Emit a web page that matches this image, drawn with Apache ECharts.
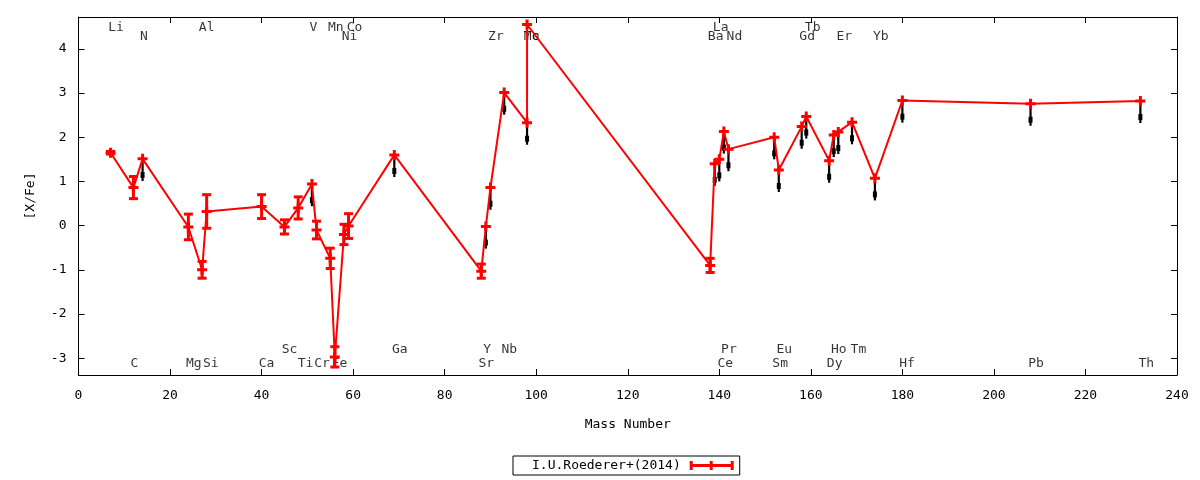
<!DOCTYPE html>
<html>
<head>
<meta charset="utf-8">
<script src="https://cdn.jsdelivr.net/npm/echarts@6/dist/echarts.min.js"></script>
<style>html,body{margin:0;padding:0;background:#fff}#c{width:1200px;height:480px}</style>
</head>
<body>
<div id="c"></div>
<script>
// ---- data ----
const elements    = ['Li','C','N','Mg','Al','Si','Ca','Sc','Ti','V','Cr','Mn','Fe','Ni','Co','Ga','Sr','Y','Zr','Nb','Mo','Tc','Ba','La','Ce','Pr','Nd','Sm','Eu','Gd','Tb','Dy','Ho','Er','Tm','Yb','Hf','Pb','Th'];
const massNumbers = [7,12,14,24,27,28,40,45,48,51,52,55,56,58,59,69,88,89,90,93,98,98,138,139,140,141,142,152,153,158,159,164,165,166,169,174,180,208,232];
const xfe         = [1.65,0.86,1.51,-0.03,-1.00,0.32,0.43,-0.03,0.40,0.94,-0.10,-0.74,-2.97,-0.20,-0.01,1.60,-1.03,-0.02,0.86,3.01,2.33,4.55,-0.90,1.40,1.50,2.13,1.73,2.00,1.26,2.24,2.47,1.47,2.05,2.12,2.34,1.07,2.83,2.76,2.82];
const xfeErr      = [0.03,0.25,0,0.29,0.19,0.38,0.27,0.16,0.25,0,0.20,0.23,0.23,0.23,0.28,0,0.16,0,0,0,0,0,0.16,0,0,0,0,0,0,0,0,0,0,0,0,0,0,0,0];
const arrowElements = ['N','V','Ga','Y','Zr','Nb','Mo','La','Ce','Pr','Nd','Sm','Eu','Gd','Tb','Dy','Ho','Er','Tm','Yb','Hf','Pb','Th'];
const arrowLength = 0.5;

const labelNames = ['Li','Al','V','Mn','Co','La','Tb',
                    'N','Ni','Zr','Mo','Tc','Ba','Nd','Gd','Er','Yb',
                    'Sc','Ga','Y','Nb','Pr','Eu','Ho','Tm',
                    'C','Mg','Si','Ca','Ti','Cr','Fe','Sr','Ce','Sm','Dy','Hf','Pb','Th'];
const labelX = [8.2,28.0,51.3,56.2,60.3,140.3,160.4,
                14.3,59.2,91.2,99.0,99.0,139.2,143.3,159.2,167.3,175.3,
                46.1,70.2,89.3,94.1,142.1,154.2,166.1,170.4,
                12.2,25.2,28.9,41.1,49.6,53.2,57.0,89.1,141.3,153.3,165.2,181.0,209.2,233.3];
const labelY = [4.49,4.49,4.49,4.49,4.49,4.49,4.49,
                4.27,4.27,4.27,4.27,4.27,4.27,4.27,4.27,4.27,4.27,
                -2.80,-2.80,-2.80,-2.80,-2.80,-2.80,-2.80,-2.80,
                -3.12,-3.12,-3.12,-3.12,-3.12,-3.12,-3.12,-3.12,-3.12,-3.12,-3.12,-3.12,-3.12,-3.12];

const xTicks = [0,20,40,60,80,100,120,140,160,180,200,220,240];
const yTicks = [-3,-2,-1,0,1,2,3,4];
const seriesName = 'I.U.Roederer+(2014)';

// ---- build ----
const FONT = 'DejaVu Sans Mono';
const lineData = massNumbers.map((m, i) => [m, xfe[i]]);
const errData = massNumbers.map((m, i) => [m, xfe[i], xfeErr[i]]).filter(d => d[2] > 0);
const arrowData = arrowElements.map(e => {
  const i = elements.indexOf(e);
  return [massNumbers[i], xfe[i], xfe[i] - arrowLength];
});
const labelData = labelNames.map((n, i) => ({ value: [labelX[i], labelY[i]], name: n }));

const plus = 'path://M3.5,0h3v10h-3z M0,3.5h10v3h-10z';

const axisCommon = {
  axisLine: { show: true, onZero: false, lineStyle: { color: '#000', width: 1 } },
  axisTick: { show: true, inside: true, length: 6, lineStyle: { color: '#000', width: 1 } },
  splitLine: { show: false }
};

const chart = echarts.init(document.getElementById('c'), null, { renderer: 'canvas' });
chart.setOption({
  animation: false,
  backgroundColor: '#fff',
  grid: { left: 78.5, right: 23, top: 17, bottom: 105, containLabel: false },
  legend: {
    data: [seriesName],
    left: 513, top: 456,
    align: 'right',
    icon: 'path://M0,0h3v9h-3z M20,0h3v9h-3z M41,0h3v9h-3z M0,3h44v3h-44z',
    itemWidth: 44, itemHeight: 9,
    itemStyle: { color: '#ff0000' },
    borderColor: '#000', borderWidth: 1, borderRadius: 0,
    padding: [3, 6, 3, 19],
    textStyle: { fontFamily: FONT, fontSize: 13, color: '#000', padding: [0, 4, 0, 0] }
  },
  xAxis: [
    Object.assign({}, axisCommon, {
      type: 'value', min: 0, max: 240, interval: 20, position: 'bottom',
      name: 'Mass Number', nameLocation: 'middle', nameGap: 43,
      nameTextStyle: { fontFamily: FONT, fontSize: 13, color: '#000' },
      axisLabel: { color: '#000', fontFamily: FONT, fontSize: 13, margin: 14,
        customValues: xTicks },
      axisTick: Object.assign({}, axisCommon.axisTick, { customValues: xTicks })
    }),
    Object.assign({}, axisCommon, {
      type: 'value', min: 0, max: 240, interval: 20, position: 'top',
      axisLabel: { show: false },
      axisTick: Object.assign({}, axisCommon.axisTick, { customValues: xTicks })
    })
  ],
  yAxis: [
    Object.assign({}, axisCommon, {
      type: 'value', min: -3.38, max: 4.72, position: 'left',
      name: '[X/Fe]', nameLocation: 'middle', nameGap: 41, nameRotate: 90,
      nameTextStyle: { fontFamily: FONT, fontSize: 13, color: '#000' },
      axisLabel: { color: '#000', fontFamily: FONT, fontSize: 13, margin: 12,
        customValues: yTicks },
      axisTick: Object.assign({}, axisCommon.axisTick, { customValues: yTicks })
    }),
    Object.assign({}, axisCommon, {
      type: 'value', min: -3.38, max: 4.72, position: 'right',
      axisLabel: { show: false },
      axisTick: Object.assign({}, axisCommon.axisTick, { customValues: yTicks })
    })
  ],
  series: [
    {
      type: 'scatter', name: 'labels', data: labelData, symbol: 'circle', symbolSize: 1,
      itemStyle: { color: 'rgba(0,0,0,0)' }, silent: true, z: 1,
      label: { show: true, position: 'inside', formatter: p => p.name,
        color: '#000', fontFamily: FONT, fontSize: 13 }
    },
    {
      type: 'custom', name: 'limits', data: arrowData, z: 2, silent: true,
      renderItem: (params, api) => {
        const x = api.value(0), top = api.value(1), bot = api.value(2);
        const p1 = api.coord([x, top]), p2 = api.coord([x, bot]);
        return { type: 'group', children: [
          { type: 'line', shape: { x1: p1[0], y1: p1[1], x2: p2[0], y2: p2[1] },
            style: { stroke: '#000', lineWidth: 2.2 } },
          { type: 'rect', shape: { x: p2[0] - 2, y: p2[1] - 9, width: 4, height: 6 },
            style: { fill: '#000' } }
        ]};
      }
    },
    {
      type: 'custom', name: 'errors', data: errData, z: 3, silent: true,
      renderItem: (params, api) => {
        const x = api.value(0), y = api.value(1), e = api.value(2);
        const hi = api.coord([x, y + e]), lo = api.coord([x, y - e]);
        return { type: 'group', children: [
          { type: 'line', shape: { x1: hi[0], y1: hi[1], x2: lo[0], y2: lo[1] },
            style: { stroke: '#ff0000', lineWidth: 3 } },
          { type: 'rect', shape: { x: hi[0] - 4.5, y: hi[1] - 1.5, width: 9, height: 3 }, style: { fill: '#ff0000' } },
          { type: 'rect', shape: { x: lo[0] - 4.5, y: lo[1] - 1.5, width: 9, height: 3 }, style: { fill: '#ff0000' } }
        ]};
      }
    },
    {
      type: 'line', name: seriesName, data: lineData, z: 4,
      symbol: plus, symbolSize: 10, showAllSymbol: true,
      itemStyle: { color: '#ff0000' },
      lineStyle: { color: '#ff0000', width: 2 }
    }
  ]
});
</script>
</body>
</html>
